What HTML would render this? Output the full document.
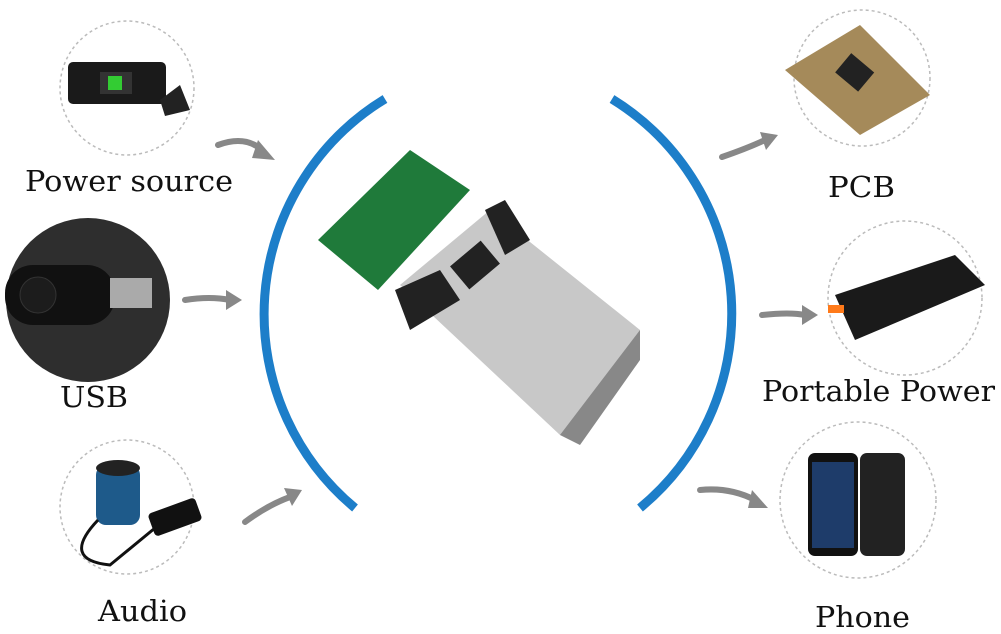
<!DOCTYPE html>
<html><head><style>body{margin:0;background:#fff}svg{display:block}text{font-family:"DejaVu Serif","Liberation Serif",serif;fill:#111}</style></head><body>
<svg width="1001" height="634" viewBox="0 0 1001 634">
<rect width="1001" height="634" fill="#fff"/>
<path d="M385 99 A252 252 0 0 0 355 508" fill="none" stroke="#1d7ec9" stroke-width="9"/>
<path d="M612 99 A252 252 0 0 1 640 508" fill="none" stroke="#1d7ec9" stroke-width="9"/>
<g fill="none" stroke="#bbb" stroke-width="1.5" stroke-dasharray="3 3">
<circle cx="127" cy="88" r="67"/><circle cx="127" cy="507" r="67"/>
<circle cx="862" cy="78" r="68"/><circle cx="905" cy="298" r="77"/><circle cx="858" cy="500" r="78"/>
</g>
<circle cx="88" cy="300" r="82" fill="#2e2e2e"/>
<rect x="68" y="62" width="98" height="42" rx="5" fill="#1a1a1a"/><rect x="100" y="72" width="32" height="22" fill="#333"/><rect x="108" y="76" width="14" height="14" fill="#3c3"/>
<path d="M160 100 l20 -15 l10 25 l-25 6z" fill="#222"/>
<rect x="5" y="265" width="110" height="60" rx="28" fill="#111"/><circle cx="38" cy="295" r="18" fill="#1c1c1c" stroke="#333"/><rect x="110" y="278" width="42" height="30" fill="#aaa"/>
<rect x="96" y="465" width="44" height="60" rx="10" fill="#1e5a8a"/><ellipse cx="118" cy="468" rx="22" ry="8" fill="#222"/>
<rect x="150" y="505" width="50" height="24" rx="4" fill="#111" transform="rotate(-20 175 517)"/>
<path d="M98 520 Q60 560 110 565 L155 528" fill="none" stroke="#111" stroke-width="3"/>
<path d="M785 70 L860 25 L930 95 L860 135z" fill="#a58a5a"/><rect x="840" y="60" width="30" height="25" fill="#222" transform="rotate(40 855 72)"/>
<path d="M835 295 L955 255 L985 285 L855 340z" fill="#1a1a1a"/><rect x="828" y="305" width="16" height="8" fill="#ff7a1a"/>
<rect x="808" y="453" width="50" height="103" rx="7" fill="#111"/><rect x="812" y="462" width="42" height="86" fill="#1e3c6a"/><rect x="860" y="453" width="45" height="103" rx="7" fill="#222"/>
<g fill="none" stroke="#888" stroke-width="6" stroke-linecap="round">
<path d="M218 145 Q245 135 262 150"/><path d="M185 300 Q210 296 230 300"/><path d="M245 522 Q268 505 290 497"/>
<path d="M722 157 Q748 148 765 140"/><path d="M762 315 Q790 312 805 315"/><path d="M700 490 Q730 487 755 500"/>
</g>
<g fill="#888">
<path d="M275 160 L258 140 L252 158z"/><path d="M242 300 L226 290 L226 310z"/><path d="M302 490 L284 488 L292 506z"/>
<path d="M778 135 L760 132 L766 150z"/><path d="M818 315 L802 305 L802 325z"/><path d="M768 508 L752 490 L748 508z"/>
</g>
<path d="M318 240 L410 150 L470 190 L378 290z" fill="#1f7a3a"/>
<path d="M400 285 L490 210 L640 330 L580 440 L560 435z" fill="#c8c8c8"/>
<path d="M560 435 L640 330 L640 360 L580 445z" fill="#888"/>
<path d="M395 290 L440 270 L460 300 L410 330z" fill="#222"/>
<path d="M485 210 L505 200 L530 240 L505 255z" fill="#222"/>
<rect x="455" y="250" width="40" height="30" fill="#222" transform="rotate(-40 475 265)"/>
<text x="25" y="191" font-size="29" textLength="208" lengthAdjust="spacingAndGlyphs">Power source</text>
<text x="60" y="407" font-size="29" textLength="68" lengthAdjust="spacingAndGlyphs">USB</text>
<text x="98" y="621" font-size="29" textLength="89" lengthAdjust="spacingAndGlyphs">Audio</text>
<text x="828" y="197" font-size="29" textLength="67" lengthAdjust="spacingAndGlyphs">PCB</text>
<text x="762" y="401" font-size="29" textLength="233" lengthAdjust="spacingAndGlyphs">Portable Power</text>
<text x="815" y="627" font-size="29" textLength="95" lengthAdjust="spacingAndGlyphs">Phone</text>
</svg>
</body></html>
